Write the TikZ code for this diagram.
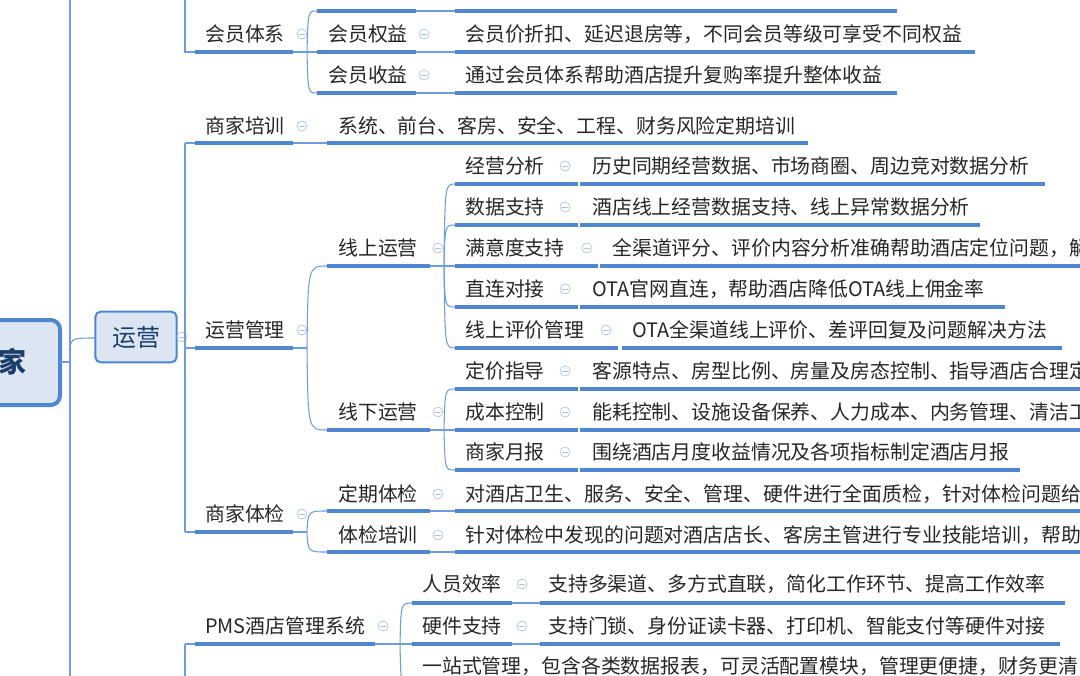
\documentclass[tikz,border=0pt]{standalone}
\usepackage{fontspec}
\setmainfont{Noto Sans CJK SC}
\begin{document}
\begin{tikzpicture}[x=0.75pt,y=-0.75pt,
  ul/.style={draw=ulc,line width=2.4pt},
  tl/.style={draw=tlc,line width=0.8pt},
  txt/.style={anchor=west,inner sep=0pt,font=\fontsize{14.9}{16}\selectfont,text=black!85},
  circ/.style={circle,draw=circc,line width=0.5pt,minimum size=7.5pt,inner sep=0pt},
  ]
\definecolor{ulc}{HTML}{4F86D0}
\definecolor{tlc}{HTML}{6E9DDF}
\definecolor{circc}{HTML}{A9C2EA}
\definecolor{boxf}{HTML}{DCE6F2}
\definecolor{boxt}{HTML}{1F3D6B}
\useasboundingbox (0,0) rectangle (1080,675);
\begin{scope}
\clip (0,0) rectangle (1080,675);
\newcommand\myul[3]{\draw[ul] (#1,#3)--(#2,#3);}
\newcommand\mycirc[3]{\node[circ] (#1) at (#2,#3) {};\draw[draw=circc,line width=0.6pt] ([xshift=-2pt]#1.center)--([xshift=2pt]#1.center);}
\newcommand\br[4]{\draw[tl] (#1,#2) .. controls (#1+1,#4) .. (#3,#4);}
\newcommand\lab[4]{\node[txt] (#1) at (#2,#3) {#4};}
% root
\draw[draw=ulc,fill=boxf,line width=3pt,rounded corners=7pt] (-40,320) rectangle (60,405);
\node[anchor=east,inner sep=0pt,font=\fontsize{21}{24}\selectfont\bfseries,text=boxt] (root) at (27,362) {商家};
\draw[tl] (60,362)--(70,362);
\draw[tl] (70,-5)--(70,680);
\draw[tl] (70,356) .. controls (70,338) .. (95,338);
% yunying box
\node[draw=ulc,fill=boxf,line width=1.5pt,rounded corners=4pt,minimum width=61pt,minimum height=38pt,font=\fontsize{18}{20}\selectfont,text=boxt] (yy) at (136,337) {运营};
\mycirc{cyy}{182}{337}
\draw[tl] (185,-5)--(185,52)--(195,52);
\draw[tl] (185,143)--(185,532);
\draw[tl] (185,644)--(185,680);
\draw[tl] (185,143)--(195,143);
\draw[tl] (185,348)--(195,348);
\draw[tl] (185,532)--(195,532);
\draw[tl] (185,644)--(195,644);
% level 2
\lab{a1}{205}{34}{会员体系}\myul{195}{293}{52}\mycirc{ca1}{302}{34}
\lab{a2}{205}{126}{商家培训}\myul{195}{293}{143}\mycirc{ca2}{302}{126}
\lab{a3}{205}{330}{运营管理}\myul{195}{293}{348}\mycirc{ca3}{302}{330}
\lab{a4}{205}{514}{商家体检}\myul{195}{293}{532}\mycirc{ca4}{302}{514}
\lab{a5}{205}{626}{PMS酒店管理系统}\myul{195}{375}{644}\mycirc{ca5}{383}{626}
% member system
\draw[tl] (293,52)--(307,52);
\br{307}{52}{317}{11}\br{307}{52}{317}{93}\draw[tl](307,52)--(317,52);
\myul{317}{416}{11}\draw[tl](416,11)--(455,11);\myul{455}{897}{11}
\lab{b2}{328}{34}{会员权益}\myul{317}{416}{52}\mycirc{cb2}{424}{34}\draw[tl](416,52)--(455,52);
\lab{b3}{328}{75}{会员收益}\myul{317}{416}{93}\mycirc{cb3}{424}{75}\draw[tl](416,93)--(455,93);
\lab{d2}{465}{34}{会员价折扣、延迟退房等，不同会员等级可享受不同权益}\myul{455}{975}{52}
\lab{d3}{465}{75}{通过会员体系帮助酒店提升复购率提升整体收益}\myul{455}{897}{93}
% training
\draw[tl](293,143)--(327,143);
\lab{d4}{338}{126}{系统、前台、客房、安全、工程、财务风险定期培训}\myul{327}{808}{143}
% operations mgmt
\draw[tl](293,348)--(307,348);
\br{307}{348}{327}{266}\br{307}{348}{327}{430}
\lab{c1}{338}{248}{线上运营}\myul{327}{430}{266}\mycirc{cc1}{438}{248}
\lab{c2}{338}{412}{线下运营}\myul{327}{430}{430}\mycirc{cc2}{438}{412}
\draw[tl](430,266)--(444,266);
\br{444}{266}{455}{184}\br{444}{266}{455}{225}\br{444}{266}{455}{307}\br{444}{266}{455}{348}\draw[tl](444,266)--(455,266);
\lab{e1}{465}{166}{经营分析}\myul{455}{578}{184}\mycirc{ce1}{565}{166}
\lab{e2}{465}{207}{数据支持}\myul{455}{578}{225}\mycirc{ce2}{565}{207}
\lab{e3}{465}{248}{满意度支持}\myul{455}{598}{266}\mycirc{ce3}{587}{248}
\lab{e4}{465}{289}{直连对接}\myul{455}{578}{307}\mycirc{ce4}{565}{289}
\lab{e5}{465}{330}{线上评价管理}\myul{455}{618}{348}\mycirc{ce5}{606}{330}
\lab{f1}{592}{166}{历史同期经营数据、市场商圈、周边竞对数据分析}\myul{580}{1045}{184}
\lab{f2}{592}{207}{酒店线上经营数据支持、线上异常数据分析}\myul{580}{980}{225}
\lab{f3}{612}{248}{全渠道评分、评价内容分析准确帮助酒店定位问题，解}\myul{600}{1085}{266}
\lab{f4}{592}{289}{OTA官网直连，帮助酒店降低OTA线上佣金率}\myul{580}{1005}{307}
\lab{f5}{632}{330}{OTA全渠道线上评价、差评回复及问题解决方法}\myul{622}{1062}{348}
\draw[tl](430,430)--(444,430);
\br{444}{430}{455}{389}\br{444}{430}{455}{470}\draw[tl](444,430)--(455,430);
\lab{g1}{465}{371}{定价指导}\myul{455}{578}{389}\mycirc{cg1}{565}{371}
\lab{g2}{465}{412}{成本控制}\myul{455}{578}{430}\mycirc{cg2}{565}{412}
\lab{g3}{465}{452}{商家月报}\myul{455}{578}{470}\mycirc{cg3}{565}{452}
\lab{h1}{592}{371}{客源特点、房型比例、房量及房态控制、指导酒店合理定}\myul{580}{1085}{389}
\lab{h2}{592}{412}{能耗控制、设施设备保养、人力成本、内务管理、清洁工}\myul{580}{1085}{430}
\lab{h3}{592}{452}{围绕酒店月度收益情况及各项指标制定酒店月报}\myul{580}{1020}{470}
% health check
\draw[tl](293,532)--(307,532);
\br{307}{532}{327}{511}\br{307}{532}{327}{552}
\lab{k1}{338}{494}{定期体检}\myul{327}{430}{511}\mycirc{ck1}{438}{494}\draw[tl](430,511)--(455,511);
\lab{k2}{338}{535}{体检培训}\myul{327}{430}{552}\mycirc{ck2}{438}{535}\draw[tl](430,552)--(455,552);
\lab{m1}{465}{494}{对酒店卫生、服务、安全、管理、硬件进行全面质检，针对体检问题给}\myul{455}{1085}{511}
\lab{m2}{465}{535}{针对体检中发现的问题对酒店店长、客房主管进行专业技能培训，帮助}\myul{455}{1085}{552}
% PMS
\draw[tl](375,644)--(400,644);
\br{400}{644}{412}{603}\br{400}{644}{412}{690}\draw[tl](400,644)--(412,644);
\lab{p1}{422}{584}{人员效率}\myul{412}{512}{603}\mycirc{cp1}{522}{584}\draw[tl](512,603)--(540,603);
\lab{p2}{422}{626}{硬件支持}\myul{412}{512}{644}\mycirc{cp2}{522}{626}\draw[tl](512,644)--(540,644);
\lab{p3}{422}{666}{一站式管理，包含各类数据报表，可灵活配置模块，管理更便捷，财务更清}
\lab{q1}{548}{584}{支持多渠道、多方式直联，简化工作环节、提高工作效率}\myul{540}{1065}{603}
\lab{q2}{548}{626}{支持门锁、身份证读卡器、打印机、智能支付等硬件对接}\myul{540}{1060}{644}
\end{scope}
\end{tikzpicture}
\end{document}
